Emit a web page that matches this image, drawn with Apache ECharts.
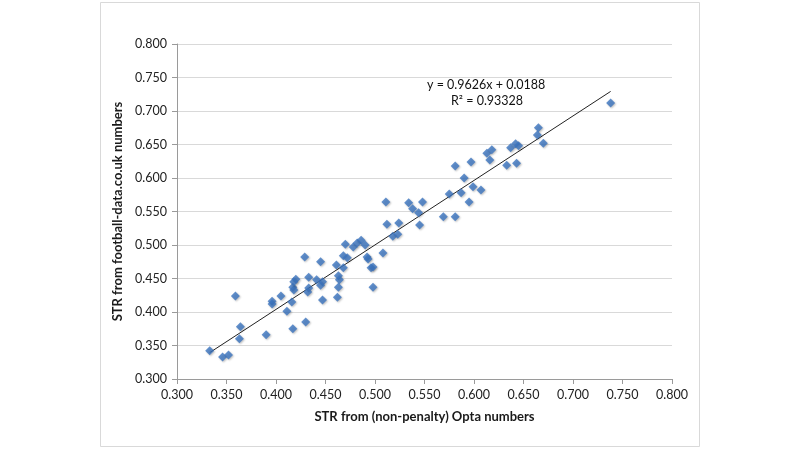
<!DOCTYPE html>
<html>
<head>
<meta charset="utf-8">
<script src="https://cdn.jsdelivr.net/npm/echarts@6/dist/echarts.min.js"></script>
<style>
html,body{margin:0;padding:0;background:#fff;}
#c{width:800px;height:450px;}
</style>
</head>
<body>
<div id="c"></div>
<script>
// Opta (non-penalty) STR values (x)
var optaSTR = [0.333,0.346,0.352,0.359,0.364,0.363,0.390,0.396,0.396,0.405,0.411,0.417,0.417,0.418,0.420,0.418,0.416,
  0.429,0.430,0.433,0.433,0.432,0.441,0.445,0.447,0.445,0.447,0.461,0.462,0.463,0.464,0.463,0.468,0.472,0.468,
  0.470,0.478,0.482,0.486,0.490,0.492,0.493,0.508,0.496,0.498,0.498,
  0.511,0.534,0.548,0.538,0.544,0.512,0.524,0.545,0.518,0.523,
  0.575,0.587,0.590,0.599,0.607,0.595,0.569,0.581,0.581,0.597,0.613,0.618,0.616,0.633,0.643,0.637,0.642,0.645,
  0.665,0.664,0.670,0.738];
// football-data.co.uk STR values (y)
var fdSTR = [0.342,0.333,0.336,0.424,0.378,0.360,0.366,0.416,0.412,0.424,0.401,0.375,0.437,0.433,0.449,0.445,0.415,
  0.482,0.385,0.452,0.436,0.430,0.448,0.475,0.445,0.440,0.418,0.470,0.422,0.454,0.448,0.437,0.484,0.481,0.466,
  0.501,0.497,0.503,0.507,0.500,0.482,0.479,0.488,0.466,0.467,0.437,
  0.564,0.563,0.564,0.554,0.548,0.531,0.533,0.530,0.513,0.516,
  0.576,0.578,0.600,0.587,0.582,0.564,0.542,0.542,0.618,0.624,0.637,0.642,0.627,0.619,0.622,0.645,0.651,0.648,
  0.675,0.664,0.652,0.712];
// Trendline (linear fit shown on chart)
var slope = 0.9626, intercept = 0.0188;
var equationText = 'y = 0.9626x + 0.0188';
var r2Text = 'R² = 0.93328';
var xTitle = 'STR from (non-penalty) Opta numbers';
var yTitle = 'STR from football-data.co.uk numbers';

var pts = optaSTR.map(function(x,i){return [x, fdSTR[i]];});
var xMinD = Math.min.apply(null, optaSTR), xMaxD = Math.max.apply(null, optaSTR);
var trend = [[xMinD, slope*xMinD+intercept],[xMaxD, slope*xMaxD+intercept]];

var font = 'Lato, "Open Sans", sans-serif';
var chart = echarts.init(document.getElementById('c'), null, {renderer:'canvas'});
chart.setOption({
  animation:false,
  backgroundColor:'#fff',
  graphic:[{type:'rect', shape:{x:100.5,y:2.5,width:599,height:444}, style:{fill:'none', stroke:'#d9d9d9', lineWidth:1}, silent:true, z:-1}],
  grid:{left:177, right:128, top:44, bottom:71},
  xAxis:{type:'value', min:0.3, max:0.8, interval:0.05,
    name:xTitle, nameLocation:'middle', nameGap:31,
    nameTextStyle:{fontFamily:font, fontSize:13, fontWeight:'bold', color:'#1a1a1a'},
    axisLine:{show:true, lineStyle:{color:'#9a9a9a'}},
    axisTick:{show:true, inside:false, length:5, lineStyle:{color:'#9a9a9a'}},
    axisLabel:{fontFamily:font, fontSize:12.5, color:'#222', margin:9, formatter:function(v){return v.toFixed(3);}},
    splitLine:{show:false}},
  yAxis:{type:'value', min:0.3, max:0.8, interval:0.05,
    name:yTitle, nameLocation:'middle', nameGap:52, nameRotate:90,
    nameTextStyle:{fontFamily:font, fontSize:13, fontWeight:'bold', color:'#1a1a1a'},
    axisLine:{show:true, lineStyle:{color:'#9a9a9a'}},
    axisTick:{show:true, inside:false, length:5, lineStyle:{color:'#9a9a9a'}},
    axisLabel:{fontFamily:font, fontSize:12.5, color:'#222', margin:10, formatter:function(v){return v.toFixed(3);}},
    splitLine:{show:true, lineStyle:{color:'#d9d9d9', width:1}}},
  series:[
    {type:'line', data:trend, symbol:'none', lineStyle:{color:'#222', width:1}, z:3, silent:true},
    {type:'scatter', data:pts, symbol:'diamond', symbolSize:9,
      itemStyle:{color:'#3b74bf', shadowColor:'rgba(0,0,0,0.3)', shadowBlur:2, shadowOffsetX:1, shadowOffsetY:1}, z:4}
  ]
});
chart.setOption({graphic:[
  {type:'rect', shape:{x:100.5,y:2.5,width:599,height:444}, style:{fill:'none', stroke:'#d9d9d9', lineWidth:1}, silent:true, z:-1},
  {type:'text', left:427, top:78, style:{text:equationText, font:'12.5px '+font, fill:'#111'}},
  {type:'text', left:451, top:94, style:{text:r2Text, font:'12.5px '+font, fill:'#111'}}
]});
</script>
</body>
</html>
